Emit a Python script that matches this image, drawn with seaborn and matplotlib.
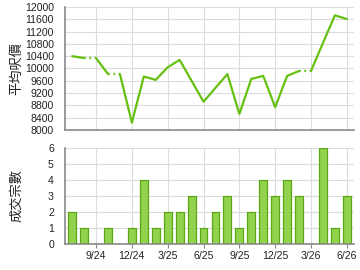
import numpy as np
import pandas as pd
import matplotlib
matplotlib.use("Agg")
import matplotlib.pyplot as plt
import seaborn as sns

# ---- data ----
months = ["7/24", "8/24", "9/24", "10/24", "11/24", "12/24",
          "1/25", "2/25", "3/25", "4/25", "5/25", "6/25",
          "7/25", "8/25", "9/25", "10/25", "11/25", "12/25",
          "1/26", "2/26", "3/26", "4/26", "5/26", "6/26"]
avg_price = [10400, 10340, np.nan, 9820, np.nan, 8240,
             9740, 9630, 10040, 10280, 9600, 8920,
             9370, 9820, 8520, 9660, 9760, 8740,
             9760, 9920, np.nan, 10830, 11730, 11610]
deals = [2, 1, 0, 1, 0, 1,
         4, 1, 2, 2, 3, 1,
         2, 3, 1, 2, 4, 3,
         4, 3, 0, 6, 1, 3]
quarter_labels = ["9/24", "12/24", "3/25", "6/25", "9/25", "12/25", "3/26", "6/26"]
price_ticks = list(range(8000, 12001, 400))
deal_ticks = [0, 1, 2, 3, 4, 5, 6]

sns.set_theme(style="white")
plt.rcParams["font.family"] = ["Liberation Sans", "Noto Sans CJK TC", "DejaVu Sans"]

LINE = "#66c011"
GRID = "#dcdcdc"
SPINE = "#8a8a8a"
TXT = "#222222"

fig = plt.figure(figsize=(3.6, 2.7), dpi=100)
ax1 = fig.add_axes([65/360, 1-130/270, (354-65)/360, (130-7)/270])
ax2 = fig.add_axes([65/360, 1-244/270, (354-65)/360, (244-147.7)/270])

n = len(months)
idx = np.arange(n)
filled = pd.Series(avg_price).ffill().to_numpy()
missing = np.isnan(np.array(avg_price, dtype=float))

# build runs of segments: dotted if segment ends at a missing month
runs = []
cur_style = None
cur = []
for i in range(1, n):
    style = "dot" if missing[i] else "solid"
    if style != cur_style:
        if cur:
            runs.append((cur_style, cur))
        cur = [i - 1, i]
        cur_style = style
    else:
        cur.append(i)
runs.append((cur_style, cur))

for style, pts in runs:
    df = pd.DataFrame({"x": idx[pts], "y": filled[pts]})
    if style == "solid":
        sns.lineplot(data=df, x="x", y="y", ax=ax1, color=LINE, lw=1.6,
                     solid_capstyle="round", solid_joinstyle="round")
    else:
        sns.lineplot(data=df, x="x", y="y", ax=ax1, color=LINE, lw=1.6,
                     linestyle=(0, (0.8, 1.6)), dash_capstyle="butt")

ax1.set_ylim(8000, 12000)
ax1.set_yticks(price_ticks)
ax1.set_yticklabels([str(t) for t in price_ticks], fontsize=7.6, color=TXT)

# bars
bdf = pd.DataFrame({"month": months, "deals": deals})
sns.barplot(data=bdf, x="month", y="deals", ax=ax2, color="#92d24e",
            edgecolor="#5aa816", linewidth=0.9, width=0.66, saturation=1)
ax2.set_ylim(0, 6)
ax2.set_yticks(deal_ticks)
ax2.set_yticklabels([str(t) for t in deal_ticks], fontsize=7.6, color=TXT)

qpos = [months.index(q) for q in quarter_labels]
for ax in (ax1, ax2):
    ax.set_xlim(-0.6, 23.6)
    ax.set_xticks(qpos)
    ax.grid(True, color=GRID, lw=0.8)
    ax.set_axisbelow(True)
    for s in ("top", "right"):
        ax.spines[s].set_visible(False)
    for s in ("left", "bottom"):
        ax.spines[s].set_color(SPINE)
        ax.spines[s].set_linewidth(1.2)
    ax.tick_params(axis="y", length=0, pad=8)
    ax.set_xlabel("")

ax1.tick_params(axis="x", length=0, labelbottom=False)
ax2.set_xticklabels(quarter_labels, fontsize=7.6, color=TXT)
ax2.tick_params(axis="x", length=3, width=0.8, color=SPINE, pad=2, bottom=True)

ax1.set_ylabel("平均呎價", fontsize=9.5, color=TXT,
               family=["Noto Sans CJK TC", "DejaVu Sans"])
ax2.set_ylabel("成交宗數", fontsize=9.5, color=TXT,
               family=["Noto Sans CJK TC", "DejaVu Sans"])
ax1.yaxis.set_label_coords(-0.145, 0.5)
ax2.yaxis.set_label_coords(-0.145, 0.5)

fig.savefig("out.png", dpi=100)
